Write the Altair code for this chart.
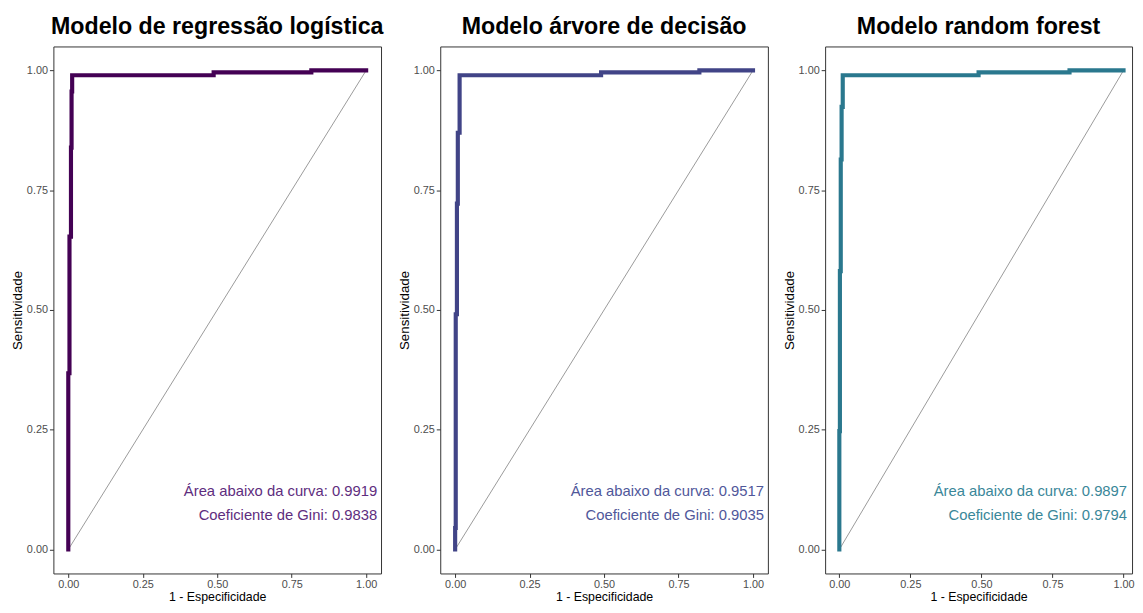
import altair as alt
import pandas as pd

# ---- data ----
model_names = ["Modelo de regressão logística", "Modelo árvore de decisão", "Modelo random forest"]

lr_fpr = [0, 0, 0.004, 0.004, 0.009, 0.009, 0.011, 0.011, 0.013, 0.013, 0.488, 0.488, 0.816, 0.816, 1.0]
lr_tpr = [0, 0.368, 0.368, 0.653, 0.653, 0.839, 0.839, 0.956, 0.956, 0.990, 0.990, 0.996, 0.996, 1.0, 1.0]

dt_fpr = [0, 0, 0.002, 0.002, 0.006, 0.006, 0.009, 0.009, 0.015, 0.015, 0.490, 0.490, 0.820, 0.820, 1.0]
dt_tpr = [0, 0.045, 0.045, 0.491, 0.491, 0.722, 0.722, 0.870, 0.870, 0.990, 0.990, 0.996, 0.996, 1.0, 1.0]

rf_fpr = [0, 0, 0.002, 0.002, 0.005, 0.005, 0.008, 0.008, 0.012, 0.012, 0.490, 0.490, 0.810, 0.810, 1.0]
rf_tpr = [0, 0.247, 0.247, 0.581, 0.581, 0.814, 0.814, 0.924, 0.924, 0.990, 0.990, 0.996, 0.996, 1.0, 1.0]

auc_values = [0.9919, 0.9517, 0.9897]
gini_values = [0.9838, 0.9035, 0.9794]

diag_x = [0, 1]
diag_y = [0, 1]

tick_values = [0, 0.25, 0.5, 0.75, 1.0]

line_colors = ["#440154", "#414487", "#2A788E"]
text_colors = ["#5e2d7e", "#50579a", "#3a8799"]

# layout (panel 3 is narrower so the whole chart fits the window)
panel_widths = [332, 332, 311]
x_domain_max = [1.05, 1.05, 1.03]
label_x = [1.037, 1.037, 1.0125]
label_y = [0.122, 0.072]

SMALL_FONT = "Liberation Sans"
TITLE_FONT = "Liberation Sans"

yscale = alt.Scale(domain=[-0.05, 1.05], nice=False, zero=False)


def make_panel(i, fpr, tpr):
    xscale = alt.Scale(domain=[-0.05, x_domain_max[i]], nice=False, zero=False)
    xax = alt.Axis(values=tick_values, format=".2f", title="1 - Especificidade")
    yax = alt.Axis(values=tick_values, format=".2f", title="Sensitividade")
    curve_df = pd.DataFrame({"fpr": fpr, "tpr": tpr, "ord": list(range(len(fpr)))})
    diag_df = pd.DataFrame({"fpr": diag_x, "tpr": diag_y})
    txt_df = pd.DataFrame({
        "fpr": [label_x[i], label_x[i]],
        "tpr": label_y,
        "label": [f"Área abaixo da curva: {auc_values[i]:.4f}",
                  f"Coeficiente de Gini: {gini_values[i]:.4f}"],
    })
    enc = dict(
        x=alt.X("fpr:Q", scale=xscale, axis=xax),
        y=alt.Y("tpr:Q", scale=yscale, axis=yax),
    )
    diag = alt.Chart(diag_df).mark_line(color="#555555", strokeWidth=0.6).encode(**enc)
    curve = alt.Chart(curve_df).mark_line(
        color=line_colors[i], strokeWidth=4.2, strokeJoin="miter", strokeCap="square"
    ).encode(order="ord:Q", **enc)
    txt = alt.Chart(txt_df).mark_text(
        align="right", baseline="middle", color=text_colors[i], font=SMALL_FONT, fontSize=15
    ).encode(text="label:N", **enc)
    return alt.layer(diag, curve, txt).properties(
        width=panel_widths[i], height=534,
        title=alt.Title(model_names[i], fontSize=23.5, font=TITLE_FONT, fontWeight="bold",
                        anchor="middle", color="black", offset=8),
    )


panels = [
    make_panel(0, lr_fpr, lr_tpr),
    make_panel(1, dt_fpr, dt_tpr),
    make_panel(2, rf_fpr, rf_tpr),
]

chart = alt.hconcat(*panels, spacing=13).configure_view(
    stroke="#333333", strokeWidth=1
).configure_axis(
    grid=False, domain=False, tickColor="#333333", tickSize=4, tickWidth=1,
    labelColor="#4d4d4d", labelFont=SMALL_FONT, labelFontSize=11, labelPadding=2,
    titleFont=SMALL_FONT, titleFontWeight="normal", titleColor="black",
).configure_axisY(titlePadding=2, titleFontSize=13.5).configure_axisX(
    titlePadding=1, titleFontSize=12.5, labelPadding=1
).properties(
    padding={"left": 2, "top": 3, "right": 0, "bottom": 0},
    background="white",
)

chart.save("out.html", embed_options={"renderer": "svg", "actions": False})
